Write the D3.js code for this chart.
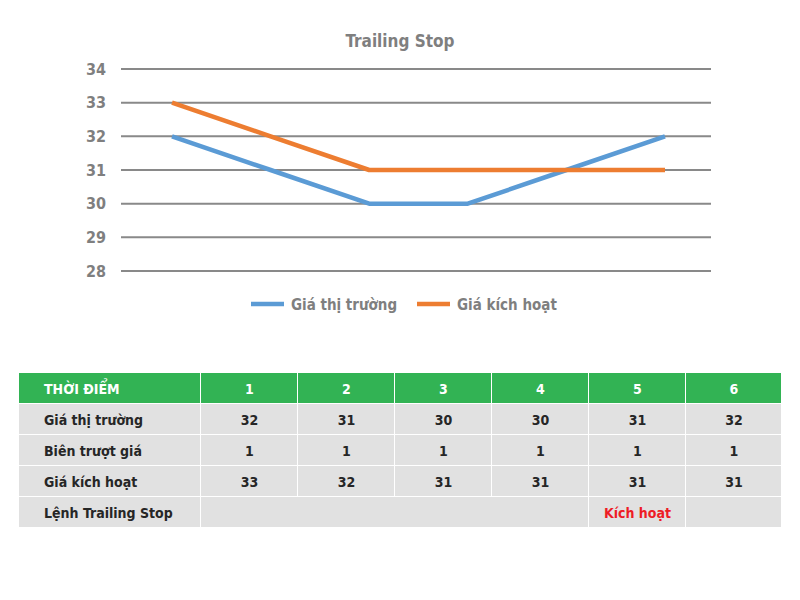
<!DOCTYPE html>
<html>
<head>
<meta charset="utf-8">
<script src="https://cdn.jsdelivr.net/npm/d3@7"></script>
<style>
  body { margin: 0; background: #fff; }
  svg { display: block; }
</style>
</head>
<body>
<script>
// Data
var thoiDiem = [1, 2, 3, 4, 5, 6];
var giaThiTruong = [32, 31, 30, 30, 31, 32];
var bienTruotGia = [1, 1, 1, 1, 1, 1];
var giaKichHoat = [33, 32, 31, 31, 31, 31];
var lenhTrailingStop = ["", "", "", "", "Kích hoạt", ""];
var yTicks = [28, 29, 30, 31, 32, 33, 34];
var seriesNames = ["Giá thị trường", "Giá kích hoạt"];
var colors = ["#5b9bd5", "#ed7d31"];

// Chart line data (chart plots points 1..6)
var lineData = [giaThiTruong, giaKichHoat];

var width = 800, height = 600;
var svg = d3.select("body").append("svg").attr("width", width).attr("height", height);

var chartFont = "'DejaVu Sans Condensed', 'DejaVu Sans', sans-serif";
var grey = "#7f7f7f";

// Scales
var x = d3.scalePoint().domain(thoiDiem).range([172, 665]);
var y = d3.scaleLinear().domain([28, 34]).range([271, 69]);

// Title
svg.append("text")
    .attr("x", 400).attr("y", 47)
    .attr("text-anchor", "middle")
    .style("font-family", chartFont).style("font-weight", "bold")
    .style("font-size", "17px").style("fill", grey)
    .text("Trailing Stop");

// Gridlines
svg.append("g").selectAll("line")
    .data(yTicks)
    .enter().append("line")
    .attr("x1", 121).attr("x2", 711)
    .attr("y1", function(d){ return y(d); })
    .attr("y2", function(d){ return y(d); })
    .attr("stroke", "#898989").attr("stroke-width", 2);

// Y axis labels
var yAxis = d3.axisLeft(y).tickValues(yTicks).tickSize(0).tickPadding(0).tickFormat(d3.format("d"));
var yAxisG = svg.append("g").attr("transform", "translate(106,0)").call(yAxis);
yAxisG.select(".domain").remove();
yAxisG.selectAll("text")
    .style("font-family", chartFont).style("font-weight", "bold")
    .style("font-size", "16px").style("fill", grey);

// Lines
var line = d3.line()
    .x(function(d, i){ return x(thoiDiem[i]); })
    .y(function(d){ return y(d); });

svg.append("g").selectAll("path")
    .data(lineData)
    .enter().append("path")
    .attr("d", function(d){ return line(d); })
    .attr("fill", "none")
    .attr("stroke", function(d, i){ return colors[i]; })
    .attr("stroke-width", 4.5)
    .attr("stroke-linejoin", "round");

// Legend
var legendX = [251, 417];
var legend = svg.append("g").selectAll("g")
    .data(seriesNames)
    .enter().append("g")
    .attr("transform", function(d, i){ return "translate(" + legendX[i] + ",304)"; });
legend.append("line")
    .attr("x1", 0).attr("x2", 33)
    .attr("stroke", function(d, i){ return colors[i]; })
    .attr("stroke-width", 4.5);
legend.append("text")
    .attr("x", 40).attr("y", 6)
    .style("font-family", chartFont).style("font-weight", "bold")
    .style("font-size", "15px").style("fill", grey)
    .text(function(d){ return d; });

// Table
var tableFont = "'DejaVu Sans Condensed', 'DejaVu Sans', sans-serif";
var colEdges = [19, 201, 298, 395, 492, 589, 686, 782];
var rowTop = 373, rowH = 31;

var rows = [
    { label: "THỜI ĐIỂM", values: thoiDiem, header: true },
    { label: "Giá thị trường", values: giaThiTruong },
    { label: "Biên trượt giá", values: bienTruotGia },
    { label: "Giá kích hoạt", values: giaKichHoat },
    { label: "Lệnh Trailing Stop", values: lenhTrailingStop, merged: true }
];

var table = svg.append("g");

rows.forEach(function(row, r) {
    var yTop = rowTop + r * rowH;
    var fill = row.header ? "#32b354" : "#e1e1e1";
    var textColor = row.header ? "#ffffff" : "#262626";

    // cells: label + values (last row: first 4 values merged)
    var cells = [{ x0: colEdges[0], x1: colEdges[1], text: row.label, left: true }];
    if (row.merged) {
        cells.push({ x0: colEdges[1], x1: colEdges[5], text: row.values.slice(0, 4).join("") });
        cells.push({ x0: colEdges[5], x1: colEdges[6], text: row.values[4], red: true });
        cells.push({ x0: colEdges[6], x1: colEdges[7], text: row.values[5] });
    } else {
        row.values.forEach(function(v, i) {
            cells.push({ x0: colEdges[i + 1], x1: colEdges[i + 2], text: v });
        });
    }

    var g = table.append("g");
    g.selectAll("rect")
        .data(cells)
        .enter().append("rect")
        .attr("x", function(d){ return d.x0; })
        .attr("y", yTop)
        .attr("width", function(d){ return d.x1 - d.x0 - 1; })
        .attr("height", rowH - 1)
        .attr("fill", fill);

    g.selectAll("text")
        .data(cells)
        .enter().append("text")
        .attr("x", function(d){ return d.left ? 44 : (d.x0 + d.x1) / 2; })
        .attr("y", yTop + rowH / 2 + 5)
        .attr("text-anchor", function(d){ return d.left ? "start" : "middle"; })
        .style("font-family", tableFont).style("font-weight", "bold")
        .style("font-size", "14px")
        .style("fill", function(d){ return d.red ? "#ee1c25" : textColor; })
        .text(function(d){ return d.text; });
});
</script>
</body>
</html>
